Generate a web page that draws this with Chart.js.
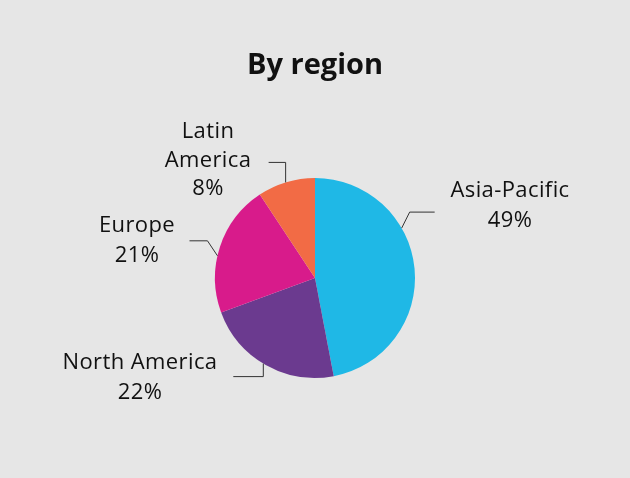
<!DOCTYPE html>
<html>
<head>
<meta charset="utf-8">
<script src="https://cdn.jsdelivr.net/npm/chart.js@4/dist/chart.umd.min.js"></script>
<style>
  html, body { margin: 0; padding: 0; background: #e6e6e6; }
  #wrap { width: 630px; height: 478px; position: relative; }
</style>
</head>
<body>
<div id="wrap"><canvas id="c" width="630" height="478"></canvas></div>
<script>
const categories = ["Asia-Pacific", "North America", "Europe", "Latin America"];
const labelLines = [["Asia-Pacific"], ["North America"], ["Europe"], ["Latin", "America"]];
// slice sizes as drawn in the picture
const sliceValues = [47, 22.4, 21.3, 9.3];
// percentages as printed on the labels
const percentLabels = ["49%", "22%", "21%", "8%"];
const colors = ["#1fb8e6", "#6b3a8f", "#d81b8b", "#f26b45"];

// leader-line / label placement (style config, relative to each arc)
const leaderCfg = [
  { t: 0.355, elbow: [8, -16], end: 25, text: [195, -87] },
  { t: 0.52, elbow: [0, 13], end: -30, text: [-175, 85] },
  { t: 0.43, elbow: [-10, -15], end: -18, text: [-178, -52] },
  { t: 0.49, elbow: [0, -20], end: -17, text: [-107, -146] }
];

const FONT = "'Open Sans', 'Noto Sans', sans-serif";

const labelPlugin = {
  id: 'leaderLabels',
  afterDatasetsDraw(chart) {
    const ctx = chart.ctx;
    const meta = chart.getDatasetMeta(0);
    meta.data.forEach((arc, i) => {
      const cfg = leaderCfg[i];
      const { x, y, startAngle, endAngle, outerRadius } = arc.getProps(['x', 'y', 'startAngle', 'endAngle', 'outerRadius'], true);
      const a = startAngle + cfg.t * (endAngle - startAngle);
      const ax = x + Math.cos(a) * outerRadius;
      const ay = y + Math.sin(a) * outerRadius;
      const ex = ax + cfg.elbow[0], ey = ay + cfg.elbow[1];
      ctx.save();
      ctx.strokeStyle = '#333';
      ctx.lineWidth = 1;
      ctx.beginPath();
      ctx.moveTo(ax, ay);
      ctx.lineTo(ex, ey);
      ctx.lineTo(ex + cfg.end, ey);
      ctx.stroke();
      const lines = labelLines[i].concat([percentLabels[i]]);
      ctx.fillStyle = '#111';
      ctx.font = '22px ' + FONT;
      try { ctx.letterSpacing = '0.4px'; } catch (e) {}
      ctx.textAlign = 'center';
      ctx.textBaseline = 'middle';
      const lh = lines.length === 3 ? 28.5 : 30;
      lines.forEach((s, k) => {
        ctx.fillText(s, x + cfg.text[0], y + cfg.text[1] + k * lh);
      });
      ctx.restore();
    });
  }
};

new Chart(document.getElementById('c'), {
  type: 'pie',
  data: {
    labels: categories,
    datasets: [{
      data: sliceValues,
      backgroundColor: colors,
      borderWidth: 0,
      hoverOffset: 0,
      offset: 0
    }]
  },
  options: {
    responsive: false,
    animation: false,
    events: [],
    layout: { padding: { top: 31, bottom: 100, left: 0, right: 0 } },
    plugins: {
      legend: { display: false },
      tooltip: { enabled: false },
      title: {
        display: true,
        text: 'By region',
        color: '#111',
        font: { family: FONT, size: 29, weight: 'bold', lineHeight: 1.2 },
        padding: { top: 17, bottom: 95.2 }
      }
    }
  },
  plugins: [labelPlugin]
});
</script>
</body>
</html>
